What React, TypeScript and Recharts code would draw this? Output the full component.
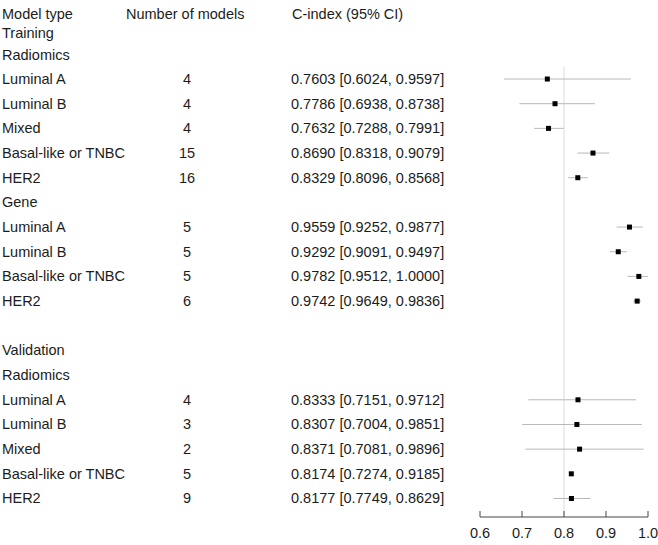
import React from "react";
import { ComposedChart, XAxis, YAxis, Scatter, ReferenceLine } from "recharts";

const headers = ["Model type", "Number of models", "C-index (95% CI)"];

const rowLabels = [
  "", "Training", "Radiomics", "Luminal A", "Luminal B", "Mixed", "Basal-like or TNBC", "HER2",
  "Gene", "Luminal A", "Luminal B", "Basal-like or TNBC", "HER2", "",
  "Validation", "Radiomics", "Luminal A", "Luminal B", "Mixed", "Basal-like or TNBC", "HER2",
];
const modelCounts = [
  "", "", "", "4", "4", "4", "15", "16",
  "", "5", "5", "5", "6", "",
  "", "", "4", "3", "2", "5", "9",
];
const ciTexts = [
  "", "", "", "0.7603 [0.6024, 0.9597]", "0.7786 [0.6938, 0.8738]", "0.7632 [0.7288, 0.7991]",
  "0.8690 [0.8318, 0.9079]", "0.8329 [0.8096, 0.8568]",
  "", "0.9559 [0.9252, 0.9877]", "0.9292 [0.9091, 0.9497]", "0.9782 [0.9512, 1.0000]", "0.9742 [0.9649, 0.9836]", "",
  "", "", "0.8333 [0.7151, 0.9712]", "0.8307 [0.7004, 0.9851]", "0.8371 [0.7081, 0.9896]",
  "0.8174 [0.7274, 0.9185]", "0.8177 [0.7749, 0.8629]",
];
const estimates = [
  null, null, null, 0.7603, 0.7786, 0.7632, 0.869, 0.8329,
  null, 0.9559, 0.9292, 0.9782, 0.9742, null,
  null, null, 0.8333, 0.8307, 0.8371, 0.8174, 0.8177,
];
const plotLows = [
  null, null, null, 0.657, 0.6938, 0.7288, 0.8318, 0.8096,
  null, 0.9252, 0.9091, 0.9512, 0.9649, null,
  null, null, 0.7151, 0.7004, 0.7081, null, 0.7749,
];
const plotHighs = [
  null, null, null, 0.9597, 0.8738, 0.7991, 0.9079, 0.8568,
  null, 0.9877, 0.9497, 1.0, 0.9836, null,
  null, null, 0.9712, 0.9851, 0.9896, null, 0.8629,
];
const xTicks = [0.6, 0.7, 0.8, 0.9, 1.0];
const refValue = 0.8;

const rows = rowLabels.map((label, i) => ({
  row: i,
  label,
  count: modelCounts[i],
  ci: ciTexts[i],
  est: estimates[i],
  lo: plotLows[i],
  hi: plotHighs[i],
}));
const points = rows.filter((r) => r.est !== null);
const rowTicks = rows.map((r) => r.row);

const FONT = "'Liberation Sans', Arial, Helvetica, sans-serif";
const TXT = "#1c1c1c";
const FS = 14.5;
const topRowShift: Record<number, number> = { 0: 9, 1: 3, 2: 1 };

const TableTick = (props: any) => {
  const { payload } = props;
  const idx = payload.value;
  const r = rows[idx];
  const y = props.y + (topRowShift[idx] || 0);
  if (idx === 0) {
    return (
      <g fontFamily={FONT} fontSize={FS} fill={TXT}>
        <text x={2} y={y} dominantBaseline="central">{headers[0]}</text>
        <text x={126} y={y} dominantBaseline="central">{headers[1]}</text>
        <text x={292} y={y} dominantBaseline="central">{headers[2]}</text>
      </g>
    );
  }
  return (
    <g fontFamily={FONT} fontSize={FS} fill={TXT}>
      {r.label && <text x={2} y={y} dominantBaseline="central">{r.label}</text>}
      {r.count && <text x={187} y={y} textAnchor="middle" dominantBaseline="central">{r.count}</text>}
      {r.ci && <text x={291} y={y} dominantBaseline="central">{r.ci}</text>}
    </g>
  );
};

const AxisTick = (props: any) => {
  const { x, y, payload } = props;
  return (
    <g>
      <line x1={x} x2={x} y1={y - 6} y2={y} stroke="#444" strokeWidth={1} />
      <text x={x} y={y + 16} textAnchor="middle" dominantBaseline="central" fontFamily={FONT} fontSize={FS} fill={TXT}>
        {payload.value.toFixed(1)}
      </text>
    </g>
  );
};

const SquareShape = (props: any) => {
  const { cx, cy } = props;
  const s = 5;
  return <rect x={cx - s / 2} y={cy - s / 2} width={s} height={s} fill="#000" />;
};

export default function App() {
  return (
    <>
      <style>{"body{margin:0;background:#fff}"}</style>
      <ComposedChart width={658} height={545} data={rows} margin={{ top: 5, right: 10, bottom: 0, left: 0 }}>
        <XAxis
          type="number"
          dataKey="est"
          domain={[0.6, 1.0]}
          ticks={xTicks}
          height={28}
          tickSize={0}
          tickMargin={0}
          tickLine={false}
          axisLine={{ stroke: "#444", strokeWidth: 1 }}
          tick={<AxisTick />}
          allowDataOverflow
        />
        <YAxis
          type="number"
          dataKey="row"
          domain={[0, 20.75]}
          ticks={rowTicks}
          reversed
          width={480}
          axisLine={false}
          tickLine={false}
          tick={<TableTick />}
          interval={0}
          allowDataOverflow
        />
        <ReferenceLine
          segment={[{ x: refValue, y: 2.5 }, { x: refValue, y: 20.75 }]}
          stroke="#ededed"
          strokeWidth={2}
          ifOverflow="visible"
        />
        {rows
          .filter((r) => r.lo !== null && r.hi !== null)
          .map((r) => (
            <ReferenceLine
              key={`ci-${r.row}`}
              segment={[{ x: r.lo, y: r.row }, { x: r.hi, y: r.row }]}
              stroke="#b8b8b8"
              strokeWidth={1}
              ifOverflow="visible"
            />
          ))}
        <Scatter data={points} dataKey="est" shape={<SquareShape />} isAnimationActive={false} />
      </ComposedChart>
    </>
  );
}
